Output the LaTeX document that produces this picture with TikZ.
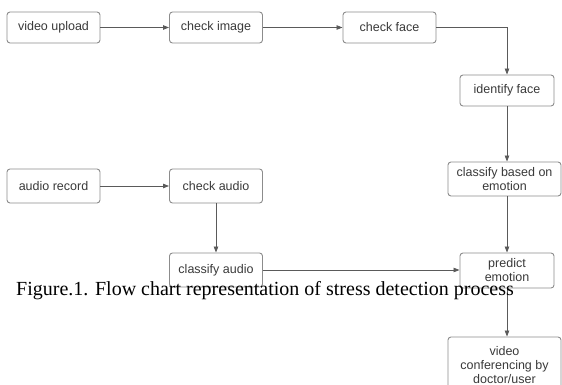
\documentclass[tikz,border=0pt]{standalone}
\usepackage{fontspec}
\setmainfont{Liberation Serif}
\newfontfamily\boxfont{Liberation Sans}
\usetikzlibrary{arrows.meta}
\definecolor{boxline}{HTML}{8C8C8C}
\definecolor{boxtext}{HTML}{3A3A3A}
\definecolor{conn}{HTML}{5A5A5A}
\tikzset{
  stepbox/.style={draw=boxline, line width=0.9pt, rounded corners=3pt, fill=white,
    text=boxtext, font=\boxfont\fontsize{12.5}{14}\selectfont, align=center,
    inner sep=2pt, minimum width=93pt, minimum height=31pt},
  flow/.style={draw=conn, line width=0.8pt, -{Triangle[length=6pt,width=4.5pt]}},
}
\begin{document}
\begin{tikzpicture}[x=1pt,y=-1pt]
\useasboundingbox (0,0) rectangle (562,385);
\node[stepbox] (vu) at (53.5,27.5) {video upload};
\node[stepbox] (ci) at (216,27.5) {check image};
\node[stepbox] (cf) at (389.5,27.5) {check face};
\node[stepbox, minimum width=94pt] (if) at (507,90.5) {identify face};
\node[stepbox, minimum width=113pt, minimum height=34pt] (cbe) at (504.5,179) {classify based on\\emotion};
\node[stepbox, minimum width=94pt, minimum height=35pt] (pe) at (507,270.5) {predict\\emotion};
\node[stepbox, minimum width=113pt, minimum height=56pt] (vc) at (504.5,365) {video\\conferencing by\\doctor/user};
\node[stepbox, minimum height=34pt] (ar) at (53.5,186) {audio record};
\node[stepbox, minimum height=34pt] (ca) at (216,186) {check audio};
\node[stepbox, minimum height=34pt] (cla) at (216,270) {classify audio};
\draw[flow] (vu) -- (ci);
\draw[flow] (ci) -- (cf);
\draw[flow] (cf.east) -| (if.north);
\draw[flow] (if) -- (if |- cbe.north);
\draw[flow] (if |- cbe.south) -- (pe);
\draw[flow] (pe) -- (pe |- vc.north);
\draw[flow] (ar) -- (ca);
\draw[flow] (ca) -- (cla);
\draw[flow] (cla.east) -- (cla.east -| pe.west);
\node[anchor=base west, inner sep=0pt, font=\fontsize{20}{24}\selectfont] (cap) at (16,295) {Figure.1. Flow chart representation of stress detection process};
\end{tikzpicture}
\end{document}
